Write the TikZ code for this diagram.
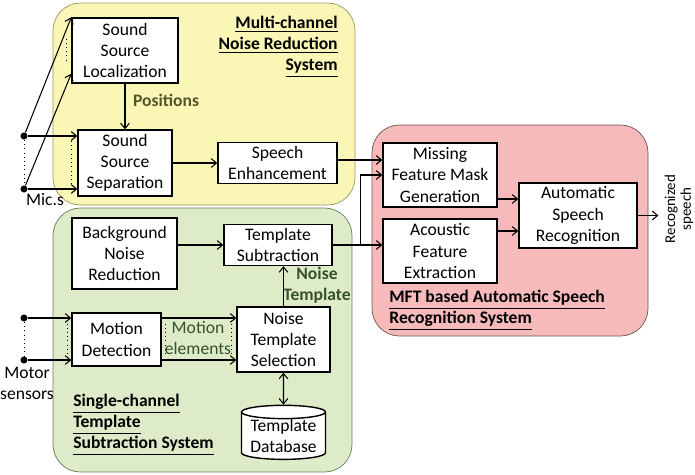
\documentclass[tikz,border=0pt]{standalone}
\usepackage{fontspec}
\setmainfont{Carlito}
\usepackage{tikz}
\usetikzlibrary{arrows.meta,shapes,positioning,calc}
\definecolor{micyellow}{RGB}{250,246,182}
\definecolor{micborder}{RGB}{150,150,100}
\definecolor{tsgreen}{RGB}{221,235,200}
\definecolor{tsborder}{RGB}{105,125,95}
\definecolor{asrpink}{RGB}{246,186,186}
\definecolor{asrborder}{RGB}{110,85,85}
\definecolor{labelolive}{RGB}{85,85,40}
\definecolor{labelgreen}{RGB}{55,80,45}

\begin{document}
\begin{tikzpicture}[
    x=0.02cm, y=-0.02cm,
    font=\fontsize{10}{12}\selectfont,
    block/.style={rectangle, draw, thick, fill=white, align=center, inner sep=1pt},
    region/.style={rounded corners=0.55cm, thin},
    dot/.style={circle, fill, inner sep=0pt, minimum size=4pt},
    arr/.style={-{Straight Barb[length=3pt,width=5pt]}, semithick},
    title/.style={font=\fontsize{10}{12}\selectfont\bfseries, inner sep=0pt}
]
    \useasboundingbox (0,0) rectangle (695,474);

    % system regions
    \draw[region, draw=micborder, fill=micyellow] (53,3) rectangle (355,205);
    \draw[region, draw=tsborder, fill=tsgreen] (53,208) rectangle (352,472);
    \draw[region, draw=asrborder, fill=asrpink] (372,125) rectangle (648,336);

    % multi-channel part
    \node[block, minimum width=2.12cm, minimum height=1.3cm] (loc) at (125,50.5) {Sound\\Source\\Localization};
    \node[block, minimum width=1.88cm, minimum height=1.32cm] (sep) at (125,163) {Sound\\Source\\Separation};
    \node[block, minimum width=2.38cm, minimum height=0.82cm] (enh) at (277.5,163) {Speech\\Enhancement};
    \node[title, anchor=north east, align=right] (mctitle) at (338,16) {\underline{Multi-channel}\\\underline{Noise Reduction}\\\underline{System}};

    % single-channel part
    \node[block, minimum width=2.1cm, minimum height=1.42cm] (bnr) at (124.5,253.5) {Background\\Noise\\Reduction};
    \node[block, minimum width=2.16cm, minimum height=0.82cm] (tsub) at (278,245) {Template\\Subtraction};
    \node[block, minimum width=1.78cm, minimum height=1.06cm] (md) at (116.5,339.5) {Motion\\Detection};
    \node[block, minimum width=1.86cm, minimum height=1.3cm] (nts) at (283.5,339.5) {Noise\\Template\\Selection};
    \node[cylinder, shape border rotate=90, aspect=0.2, draw, thick, fill=white, align=center,
          minimum width=1.68cm, minimum height=1.08cm, inner sep=0pt] (db) at (283.5,436) {Template\\Database};
    \node[title, anchor=north west, align=left] (sctitle) at (73,394) {\underline{Single-channel}\\\underline{Template}\\\underline{Subtraction System}};

    % MFT part
    \node[block, minimum width=2.28cm, minimum height=1.28cm] (mfmg) at (440,175) {Missing\\Feature Mask\\Generation};
    \node[block, minimum width=2.28cm, minimum height=1.28cm] (afe) at (440,251) {Acoustic\\Feature\\Extraction};
    \node[block, minimum width=2.36cm, minimum height=1.3cm] (asr) at (578,215.5) {Automatic\\Speech\\Recognition};
    \node[title, anchor=north west, align=left] (mfttitle) at (389,290) {\underline{MFT based Automatic Speech}\\\underline{Recognition System}};
    \node[rotate=90, align=center, inner sep=0pt, font=\fontsize{8.5}{9}\selectfont] (out) at (679,209) {Recognized\\speech};

    % inputs
    \node[dot] (mic1) at (24,136) {};
    \node[dot] (mic2) at (24,189) {};
    \node (miclbl) at (45,200) {Mic.s};
    \node[dot] (mot1) at (24,318) {};
    \node[dot] (mot2) at (24,360) {};
    \node[align=center] (motlbl) at (27,383) {Motor\\sensors};

    % labels
    \node[font=\fontsize{10}{12}\selectfont\bfseries, text=labelolive] (poslbl) at (166,100) {Positions};
    \node[font=\fontsize{10}{12}\selectfont\bfseries, text=labelgreen, align=center] (ntlbl) at (317,285) {Noise\\Template};
    \node[text=labelgreen, align=center] (melbl) at (198,338) {Motion\\elements};

    % helper points
    \coordinate (locin) at ($(loc.south west)+(0,-10)$);
    \coordinate (enhout) at ($(enh.east)+(0,-3)$);
    \coordinate (mfmgout) at ($(mfmg.east)+(0,24)$);
    \coordinate (afeout) at ($(afe.east)+(0,-20)$);
    \coordinate (split) at ($(tsub.east)+(28,0)$);

    % microphone connections
    \draw[arr] (mic1) -- (loc.north west);
    \draw[arr] (mic2) -- (locin);
    \draw[arr] (mic1) -- (mic1 -| sep.west);
    \draw[arr] (mic2) -- (mic2 -| sep.west);
    \draw[dotted] (mic1) -- (mic2);
    \draw[dotted] ($(loc.west)+(-5,-12)$) -- ($(loc.west)+(-5,12)$);
    \draw[dotted] ($(sep.west)+(-6,-22)$) -- ($(sep.west)+(-6,22)$);

    \draw[arr] (loc) -- (sep);
    \draw[arr] (sep) -- (enh);
    \draw[arr] (enhout) -- (enhout -| mfmg.west);

    % motor connections
    \draw[arr] (mot1) -- (mot1 -| md.west);
    \draw[arr] (mot2) -- (mot2 -| md.west);
    \draw[dotted] (mot1) -- (mot2);
    \draw[dotted] ($(md.west)+(-4,-16)$) -- ($(md.west)+(-4,16)$);
    \draw[arr] (md.east |- mot1) -- (nts.west |- mot1);
    \draw[arr] (md.east |- mot2) -- (nts.west |- mot2);
    \draw[dotted] ($(md.east)+(4,-16)$) -- ($(md.east)+(4,16)$);
    \draw[dotted] ($(nts.west)+(-5,-16)$) -- ($(nts.west)+(-5,16)$);

    \draw[arr] (bnr.east |- tsub) -- (tsub);
    \draw[arr] (nts.north) -- (nts.north |- tsub.south);
    \draw[{Straight Barb[length=3pt,width=5pt]}-{Straight Barb[length=3pt,width=5pt]}, semithick] (nts) -- (db);

    % into MFT
    \draw[arr] (tsub.east) -- (tsub.east -| afe.west);
    \draw[arr] (split) |- (mfmg.west);
    \draw[arr] (mfmgout) -- (mfmgout -| asr.west);
    \draw[arr] (afeout) -- (afeout -| asr.west);
    \draw[arr] (asr.east) -- ($(asr.east -| out.north)+(-6,0)$);
\end{tikzpicture}
\end{document}
